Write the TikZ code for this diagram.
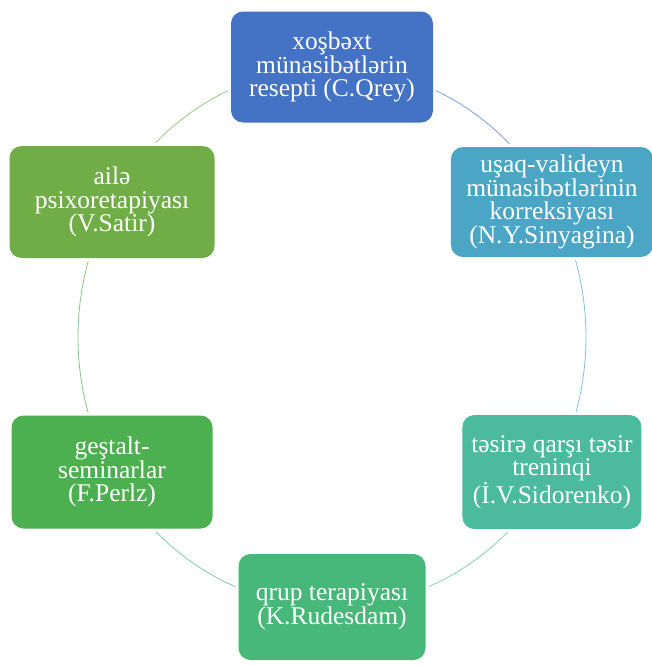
\documentclass[tikz,border=0pt]{standalone}
\usepackage{fontspec}
\setmainfont{Liberation Serif}
\usetikzlibrary{backgrounds,calc}
\definecolor{cTop}{HTML}{4472C4}
\definecolor{cRT}{HTML}{4BA6C6}
\definecolor{cRB}{HTML}{4BBA9E}
\definecolor{cBot}{HTML}{47B77A}
\definecolor{cLB}{HTML}{4CAF50}
\definecolor{cLT}{HTML}{70AD47}
\tikzset{
  box/.style={rounded corners=12pt, inner sep=0pt, align=center, text=white,
    font=\fontsize{25.5pt}{23.7pt}\selectfont,
    preaction={draw=white, line width=6pt}},
  lnk/.style={draw=#1!70, line width=0.8pt}
}
\begin{document}
\begin{tikzpicture}
\useasboundingbox (0,0) rectangle (652pt,-665pt);
\coordinate (c) at (332pt,-337pt);
\node[box, fill=cTop, minimum width=202pt, minimum height=111pt] (top) at ($(c)+(90:254pt and 270pt)$) {xoşbəxt\\münasibətlərin\\resepti (C.Qrey)};
\node[box, fill=cRT, minimum width=202pt, minimum height=110pt] (rt) at ($(c)+(30:254pt and 270pt)$) {uşaq-valideyn\\münasibətlərinin\\korreksiyası\\(N.Y.Sinyagina)};
\node[box, fill=cRB, minimum width=179pt, minimum height=114pt] (rb) at ($(c)+(-30:254pt and 270pt)$) {təsirə qarşı təsir\\treninqi\\(İ.V.Sidorenko)};
\node[box, fill=cBot, minimum width=187pt, minimum height=106pt] (bot) at ($(c)+(-90:254pt and 270pt)$) {qrup terapiyası\\(K.Rudesdam)};
\node[box, fill=cLB, minimum width=201pt, minimum height=113pt] (lb) at ($(c)+(-150:254pt and 270pt)$) {geştalt-\\seminarlar\\(F.Perlz)};
\node[box, fill=cLT, minimum width=205pt, minimum height=112pt] (lt) at ($(c)+(150:254pt and 270pt)$) {ailə\\psixoretapiyası\\(V.Satir)};
\begin{scope}[on background layer]
\draw[lnk=cTop] (top.center) arc[start angle=90, end angle=30, x radius=254pt, y radius=270pt];
\draw[lnk=cRT] (rt.center) arc[start angle=30, end angle=-30, x radius=254pt, y radius=270pt];
\draw[lnk=cRB] (rb.center) arc[start angle=-30, end angle=-90, x radius=254pt, y radius=270pt];
\draw[lnk=cBot] (bot.center) arc[start angle=-90, end angle=-150, x radius=254pt, y radius=270pt];
\draw[lnk=cLB] (lb.center) arc[start angle=-150, end angle=-210, x radius=254pt, y radius=270pt];
\draw[lnk=cLT] (lt.center) arc[start angle=150, end angle=90, x radius=254pt, y radius=270pt];
\end{scope}
\end{tikzpicture}
\end{document}
